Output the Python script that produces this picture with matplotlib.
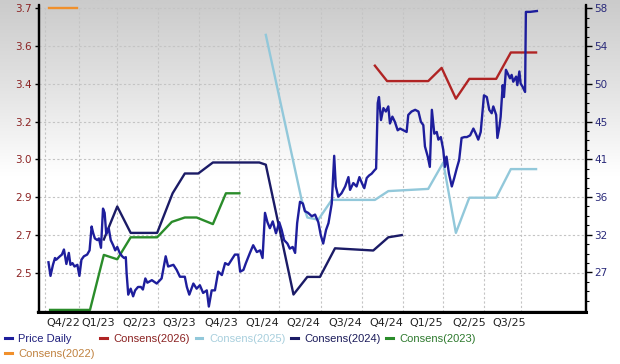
import numpy as np
import matplotlib
matplotlib.use("Agg")
import matplotlib.pyplot as plt
from matplotlib.colors import LinearSegmentedColormap
from matplotlib.lines import Line2D
from matplotlib.ticker import FixedLocator, FixedFormatter

# ---------------- data ----------------
# x is measured in quarters from the start of Q1/23
quarter_labels = ["Q4/22", "Q1/23", "Q2/23", "Q3/23", "Q4/23", "Q1/24", "Q2/24",
                  "Q3/24", "Q4/24", "Q1/25", "Q2/25", "Q3/25"]
quarter_label_pos = [-0.39, 0.47, 1.48, 2.46, 3.50, 4.50, 5.52, 6.54, 7.56, 8.54, 9.59, 10.58]
vgrid_pos = [-0.84, 0, 0.93, 1.94, 2.95, 3.93, 4.91, 5.95, 6.95, 7.96, 8.94, 9.95, 10.86]

left_labels = ["2.5", "2.7", "2.9", "3.0", "3.2", "3.4", "3.6", "3.7"]
right_labels = ["27", "32", "36", "41", "45", "50", "54", "58"]

price_t = [-0.75, -0.70, -0.64, -0.59, -0.56, -0.47, -0.42, -0.37, -0.31, -0.25, -0.21, -0.16,
           -0.11, -0.04, 0.01, 0.06, 0.12, 0.20, 0.26, 0.31, 0.35, 0.39, 0.45, 0.49, 0.54, 0.59,
           0.63, 0.67, 0.73, 0.78, 0.84, 0.89, 0.94, 1.00, 1.06, 1.11, 1.15, 1.17, 1.21, 1.27,
           1.33, 1.38, 1.45, 1.52, 1.57, 1.63, 1.68, 1.79, 1.91, 2.03, 2.13, 2.19, 2.32, 2.40,
           2.48, 2.60, 2.65, 2.71, 2.81, 2.89, 2.97, 3.05, 3.14, 3.19, 3.26, 3.34, 3.42, 3.51,
           3.59, 3.67, 3.75, 3.83, 3.91, 3.96, 4.04, 4.10, 4.20, 4.28, 4.37, 4.45, 4.51, 4.57,
           4.63, 4.69, 4.76, 4.84, 4.92, 4.98, 5.04, 5.12, 5.18, 5.25, 5.31, 5.36, 5.43, 5.50,
           5.55, 5.63, 5.72, 5.80, 5.88, 5.94, 6.00, 6.07, 6.13, 6.21, 6.27, 6.31, 6.37, 6.45,
           6.54, 6.62, 6.66, 6.74, 6.82, 6.89, 6.95, 7.01, 7.07, 7.13, 7.19, 7.26, 7.30, 7.34,
           7.37, 7.42, 7.48, 7.54, 7.60, 7.64, 7.70, 7.76, 7.83, 7.89, 7.97, 8.05, 8.09, 8.17,
           8.26, 8.34, 8.40, 8.46, 8.50, 8.57, 8.62, 8.67, 8.73, 8.79, 8.83, 8.89, 8.95, 8.99,
           9.03, 9.09, 9.16, 9.22, 9.28, 9.34, 9.40, 9.47, 9.53, 9.61, 9.69, 9.75, 9.81, 9.87,
           9.92, 9.95, 10.02, 10.08, 10.14, 10.18, 10.25, 10.28, 10.33, 10.36, 10.41, 10.44,
           10.49, 10.55, 10.59, 10.63, 10.67, 10.74, 10.77, 10.82, 10.85, 10.90, 10.96, 10.98,
           11.08, 11.25]
price_val = [28.2, 26.6, 27.9, 28.7, 28.5, 28.9, 29.1, 29.7, 28.0, 29.3, 27.9, 28.1,
             27.7, 27.9, 26.6, 28.5, 28.9, 29.1, 29.6, 32.4, 31.6, 31.0, 30.8, 31.0, 29.9, 34.5,
             34.0, 31.5, 32.2, 30.8, 30.2, 29.6, 30.0, 29.3, 28.9, 28.7, 28.8, 26.9, 24.4, 25.1,
             24.2, 24.9, 25.3, 25.3, 25.0, 26.3, 25.8, 26.1, 25.7, 26.3, 28.9, 27.7, 27.9, 27.3,
             26.5, 26.5, 25.3, 24.4, 25.7, 25.1, 25.5, 24.6, 24.9, 23.0, 24.9, 24.9, 27.1, 26.7,
             28.1, 27.9, 28.5, 29.1, 29.1, 27.1, 27.3, 28.1, 29.3, 30.2, 29.4, 29.6, 28.7, 34.0,
             32.9, 32.2, 33.0, 31.6, 32.9, 32.0, 30.8, 30.4, 29.8, 30.0, 29.3, 32.8, 35.3, 35.1,
             34.2, 34.0, 33.6, 33.8, 32.9, 31.4, 30.4, 32.0, 32.8, 35.1, 40.7, 37.1, 35.9, 36.3,
             37.1, 38.2, 36.7, 37.5, 37.1, 38.2, 37.5, 36.9, 38.1, 38.4, 38.6, 39.0, 39.2, 46.9,
             47.6, 44.9, 46.3, 45.9, 46.5, 44.5, 45.3, 44.7, 43.7, 43.9, 43.7, 43.5, 45.5, 45.9,
             46.1, 45.9, 44.7, 44.3, 41.8, 40.6, 39.4, 46.1, 43.3, 43.5, 42.6, 42.9, 41.4, 39.4,
             40.6, 38.6, 37.1, 38.1, 39.2, 40.2, 42.8, 42.9, 42.9, 43.1, 43.9, 43.3, 42.6, 43.5,
             46.1, 47.8, 47.6, 46.1, 45.7, 46.5, 45.5, 42.8, 44.1, 45.3, 49.0, 47.6,
             50.8, 50.2, 49.8, 50.2, 49.4, 50.0, 49.0, 50.6, 49.2, 48.8, 48.2, 57.6,
             57.6, 57.7]

cons2026_t = [7.27, 7.57, 8.58, 8.91, 9.26, 9.59, 10.25, 10.61, 11.23]
cons2026 = [3.44, 3.37, 3.37, 3.43, 3.29, 3.38, 3.38, 3.50, 3.50]

cons2025_t = [4.59, 5.47, 5.61, 5.88, 6.21, 7.27, 7.60, 8.58, 8.95, 9.26, 9.59, 10.25, 10.61, 11.23]
cons2025 = [3.58, 2.83, 2.75, 2.74, 2.83, 2.83, 2.87, 2.88, 3.00, 2.68, 2.84, 2.84, 2.97, 2.97]

cons2024_t = [0.61, 0.94, 1.27, 1.92, 2.30, 2.60, 2.93, 3.29, 3.94, 4.43, 4.59, 5.27, 5.61,
              5.92, 6.29, 7.23, 7.60, 7.93]
cons2024 = [2.65, 2.80, 2.68, 2.68, 2.86, 2.95, 2.95, 3.00, 3.00, 3.00, 2.99, 2.40, 2.48,
            2.48, 2.61, 2.60, 2.66, 2.67]

cons2023_t = [-0.71, 0.27, 0.61, 0.94, 1.27, 1.92, 2.28, 2.60, 2.89, 3.29, 3.61, 3.94]
cons2023 = [2.33, 2.33, 2.58, 2.56, 2.66, 2.66, 2.73, 2.75, 2.75, 2.72, 2.86, 2.86]

cons2022_t = [-0.73, -0.06]
cons2022 = [3.70, 3.70]

# ---------------- styling ----------------
c_price = "#1e1e9c"
c_2026 = "#b02424"
c_2025 = "#92c8da"
c_2024 = "#1b1b66"
c_2023 = "#2a8c2a"
c_2022 = "#f0902c"

fig = plt.figure(figsize=(6.2, 3.64), dpi=100)

bg = fig.add_axes([0, 0, 1, 1], zorder=-10)
grad = np.linspace(0, 1, 256).reshape(-1, 1)
cmap = LinearSegmentedColormap.from_list(
    "bg", [(0.0, "#cbcbcb"), (0.25, "#e4e4e4"), (0.48, "#ffffff"), (1.0, "#ffffff")])
bg.imshow(grad, aspect="auto", cmap=cmap, extent=[0, 1, 0, 1], origin="upper")
bg.set_axis_off()

ax = fig.add_axes([38.5 / 620, 1 - 312 / 364, (586 - 38.5) / 620, (312 - 5.5) / 364])
ax.patch.set_alpha(0)
ax2 = ax.twinx()
ax2.patch.set_alpha(0)

# axis scales
ax.set_xlim(-0.995, 12.457)
ax.set_ylim(2.3205, 3.7135)
ax2.set_ylim(22.36, 58.35)

lt = np.linspace(2.5, 3.7, len(left_labels))
ax.yaxis.set_major_locator(FixedLocator(lt))
ax.yaxis.set_major_formatter(FixedFormatter(left_labels))
rt = np.linspace(27, 58, len(right_labels))
ax2.yaxis.set_major_locator(FixedLocator(rt))
ax2.yaxis.set_major_formatter(FixedFormatter(right_labels))
step = rt[1] - rt[0]
minor = [v + k * step / 4 for v in np.concatenate([[rt[0] - step], rt]) for k in (1, 2, 3)]
ax2.yaxis.set_minor_locator(FixedLocator(minor))

ax.set_xticks(quarter_label_pos)
ax.set_xticklabels(quarter_labels)

# grid
ax.grid(axis="y", color="#c4c4c4", linestyle=(0, (2, 2)), linewidth=0.8)
for g in vgrid_pos:
    ax.axvline(g, color="#c4c4c4", linestyle=(0, (2, 2)), linewidth=0.8, zorder=0)
ax.set_axisbelow(True)

# series
lw = 1.7
ax.plot(cons2022_t, cons2022, color=c_2022, lw=lw)
ax.plot(cons2023_t, cons2023, color=c_2023, lw=lw)
ax.plot(cons2024_t, cons2024, color=c_2024, lw=lw)
ax.plot(cons2025_t, cons2025, color=c_2025, lw=lw)
ax.plot(cons2026_t, cons2026, color=c_2026, lw=lw)
ax2.plot(price_t, price_val, color=c_price, lw=1.7)

# spines and ticks
for a in (ax, ax2):
    a.spines["top"].set_visible(False)
    for s in ("left", "right", "bottom"):
        a.spines[s].set_color("black")
        a.spines[s].set_linewidth(1.6)
ax.spines["bottom"].set_linewidth(2.2)

ax.tick_params(axis="y", length=3, width=1, colors="black", labelcolor="#8b2222",
               labelsize=7.5, pad=2)
ax2.tick_params(axis="y", which="major", length=4, width=1, colors="black",
                labelcolor="#2a2a7a", labelsize=7.5, pad=2)
ax2.tick_params(axis="y", which="minor", length=2.5, width=0.8, colors="black")
ax.tick_params(axis="x", length=0, pad=4, labelsize=8, labelcolor="#222222")

# legend
order = [("Price Daily", c_price, "#1e1e7c"),
         ("Consens(2022)", c_2022, "#c08240"),
         ("Consens(2026)", c_2026, "#8b2222"),
         ("Consens(2025)", c_2025, "#a8cfdd"),
         ("Consens(2024)", c_2024, "#1b1b5a"),
         ("Consens(2023)", c_2023, "#2e7a2e")]
handles = [Line2D([], [], color=c, lw=2.2) for _, c, _ in order]
fig.legend(handles, [n for n, _, _ in order], loc="upper left",
           bbox_to_anchor=(5 / 620, 1 - 334 / 364), ncol=5, frameon=False,
           handlelength=0.6, handletextpad=0.6, columnspacing=0.5,
           labelspacing=0.45, borderaxespad=0, borderpad=0,
           labelcolor=[tc for _, _, tc in order],
           prop={"family": ["Liberation Sans", "DejaVu Sans"], "size": 8})

fig.savefig("out.png", dpi=100)
